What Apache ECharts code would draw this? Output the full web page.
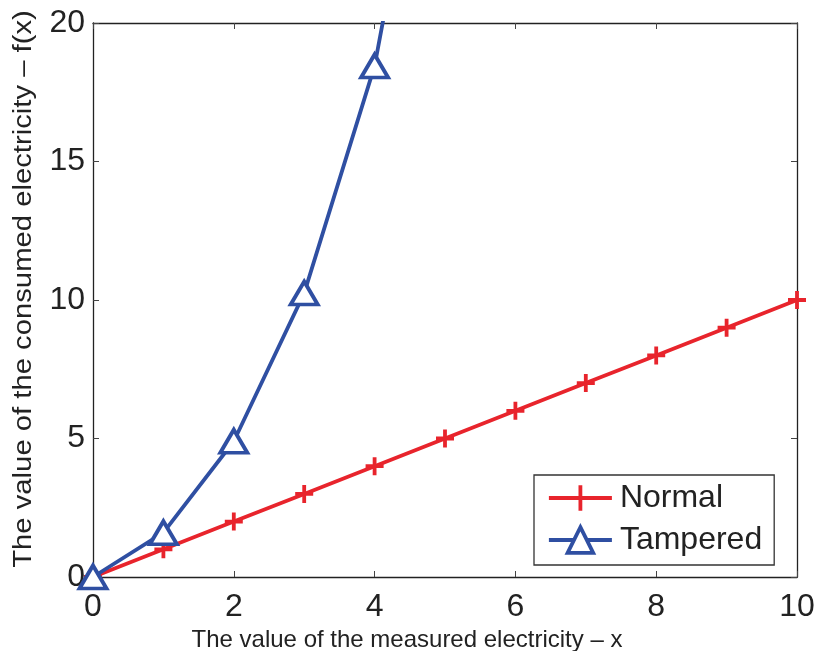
<!DOCTYPE html>
<html><head><meta charset="utf-8">
<script src="https://cdn.jsdelivr.net/npm/echarts@6/dist/echarts.min.js"></script>
<style>html,body{margin:0;padding:0;background:#fff}#c{width:819px;height:651px}</style>
</head><body><div id="c"></div>
<script>
const xValues = [0,1,2,3,4,5,6,7,8,9,10];
const normalValues = [0,1,2,3,4,5,6,7,8,9,10];
const tamperedX = [0,1,2,3,4,5];
const tamperedValues = [0,1.6,4.9,10.25,18.45,32];
const xTicks = {min:0,max:10,interval:2};
const yTicks = {min:0,max:20,interval:5};
const xTitle = 'The value of the measured electricity – x';
const yTitle = 'The value of the consumed electricity – f(x)';

const RED = '#e8242c', BLUE = '#2f4fa2';
const LW = 3.8;
const plus = 'path://M10 0 L10 20 M0 10 L20 10';
const font = 'Liberation Sans, Arial, Helvetica, sans-serif';
const chart = echarts.init(document.getElementById('c'));
function axisCommon(){
  return {
    axisLine:{show:true,onZero:false,lineStyle:{color:'#222',width:1.3}},
    axisTick:{show:true,inside:true,length:6,lineStyle:{color:'#444',width:1}},
    splitLine:{show:false}
  };
}
chart.setOption({
  animation:false,
  backgroundColor:'#fff',
  grid:{left:93,right:22,top:23,bottom:74,containLabel:false,outerBoundsMode:'none'},
  legend:{
    orient:'vertical', left:534, top:475,
    backgroundColor:'#fff', borderColor:'#333', borderWidth:1.3, borderRadius:0,
    padding:[6,12,8,13], itemGap:8, itemWidth:63, itemHeight:32,
    lineStyle:{width:LW}, itemStyle:{borderWidth:LW},
    textStyle:{fontSize:32,fontFamily:font,color:'#222',lineHeight:34,padding:[0,0,0,3]},
    data:['Normal','Tampered']
  },
  graphic:[{
    type:'text', x:24, y:289, rotation:Math.PI/2, scaleX:1.17,
    style:{text:yTitle, font:'25px Liberation Sans, Arial, sans-serif', fill:'#222',
      textAlign:'center', textVerticalAlign:'middle'}
  }],
  xAxis:[
    Object.assign({type:'value',position:'bottom',min:xTicks.min,max:xTicks.max,interval:xTicks.interval,
      name:xTitle,nameLocation:'middle',nameGap:43,
      nameTextStyle:{fontSize:24,fontFamily:font,color:'#222',padding:[0,76,0,0]},
      axisLabel:{fontSize:32,fontFamily:font,color:'#222',margin:14}},axisCommon()),
    Object.assign({type:'value',position:'top',min:xTicks.min,max:xTicks.max,interval:xTicks.interval,
      axisLabel:{show:false}},axisCommon())
  ],
  yAxis:[
    Object.assign({type:'value',position:'left',min:yTicks.min,max:yTicks.max,interval:yTicks.interval,
      axisLabel:{fontSize:32,fontFamily:font,color:'#222',margin:8}},axisCommon()),
    Object.assign({type:'value',position:'right',min:yTicks.min,max:yTicks.max,interval:yTicks.interval,
      axisLabel:{show:false}},axisCommon())
  ],
  series:[
    {name:'Normal',type:'line',data:xValues.map((x,i)=>[x,normalValues[i]]),
      symbol:plus,symbolSize:18,showAllSymbol:true,
      lineStyle:{color:RED,width:LW},
      itemStyle:{color:RED,borderColor:RED,borderWidth:LW},z:2},
    {name:'Tampered',type:'line',data:tamperedX.map((x,i)=>[x,tamperedValues[i]]),
      symbol:'triangle',symbolSize:[27,23],showAllSymbol:true,clip:true,
      lineStyle:{color:BLUE,width:LW},
      itemStyle:{color:'#fff',borderColor:BLUE,borderWidth:LW},z:3}
  ]
});
</script></body></html>
